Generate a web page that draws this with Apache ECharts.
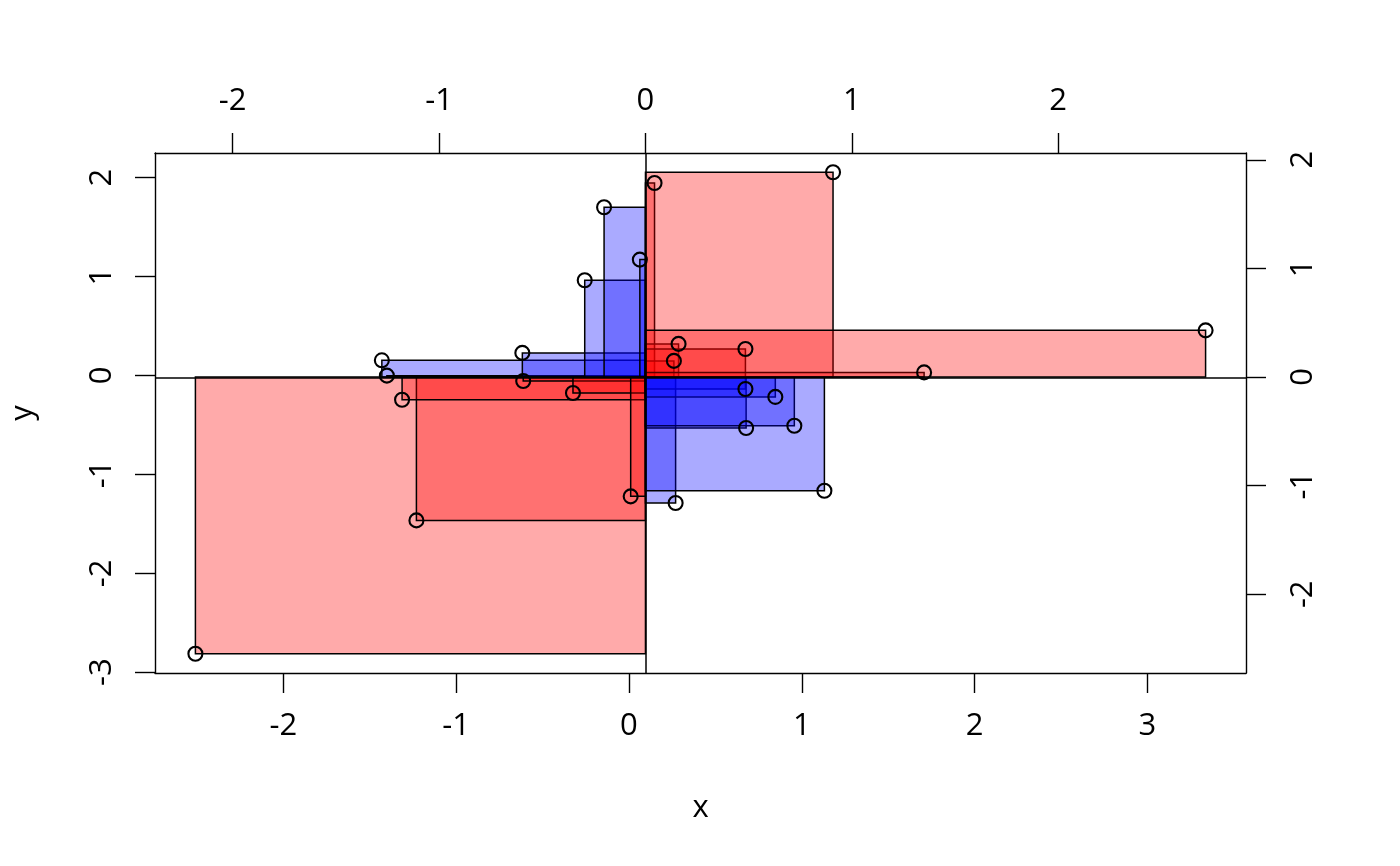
<!DOCTYPE html>
<html>
<head>
<meta charset="utf-8">
<script src="https://cdn.jsdelivr.net/npm/echarts@6.0.0/dist/echarts.min.js"></script>
<style>
  html, body { margin: 0; padding: 0; background: #fff; }
  #chart { width: 1400px; height: 866px; }
</style>
</head>
<body>
<div id="chart"></div>
<script>
// ---- data ----
const xs = [-2.509, -1.230, -1.313, -1.430, -1.401, -0.617, -0.612, -0.324, -0.256, -0.144,
            0.063, 0.010, 0.148, 0.287, 0.260, 0.270, 0.674, 0.674, 0.678, 0.847,
            0.957, 1.131, 1.181, 1.708, 3.337];
const ys = [-2.813, -1.465, -0.245, 0.153, -0.002, 0.228, -0.056, -0.177, 0.962, 1.700,
            1.171, -1.222, 1.946, 0.319, 0.147, -1.289, 0.268, -0.137, -0.531, -0.217,
            -0.508, -1.165, 2.054, 0.031, 0.456];
const xTicks = [-2, -1, 0, 1, 2, 3];
const yTicks = [-3, -2, -1, 0, 1, 2];
const topTicks = [-2, -1, 0, 1, 2];
const rightTicks = [-2, -1, 0, 1, 2];

// ---- derived stats ----
const mean = a => a.reduce((s, v) => s + v, 0) / a.length;
const sd = (a, m) => Math.sqrt(a.reduce((s, v) => s + (v - m) * (v - m), 0) / (a.length - 1));
const mx = mean(xs), my = mean(ys);
const sx = sd(xs, mx), sy = sd(ys, my);
function pad(a) { const lo = Math.min(...a), hi = Math.max(...a), d = (hi - lo) * 0.04; return [lo - d, hi + d]; }
const [xlo, xhi] = pad(xs);
const [ylo, yhi] = pad(ys);

const FONT = 'Open Sans';
const LW = 1.4;
function axisCommon(ticks, extra) {
  return Object.assign({
    type: 'value',
    splitLine: { show: false },
    axisLine: { show: true, onZero: false, lineStyle: { color: '#000', width: LW } },
    axisTick: { show: true, customValues: ticks, length: 20, inside: false, lineStyle: { color: '#000', width: LW } },
    axisLabel: { show: true, customValues: ticks, color: '#000', fontFamily: FONT, fontSize: 31 }
  }, extra);
}

const xAxisBottom = axisCommon(xTicks, { position: 'bottom', min: xlo, max: xhi,
  name: 'x', nameLocation: 'middle', nameGap: 120,
  nameTextStyle: { color: '#000', fontFamily: FONT, fontSize: 31 } });
xAxisBottom.axisLabel.margin = 38;

const xAxisTop = axisCommon(topTicks, { position: 'top', min: (xlo - mx) / sx, max: (xhi - mx) / sx });
xAxisTop.axisLabel.margin = 36;

const yAxisLeft = axisCommon(yTicks, { position: 'left', min: ylo, max: yhi,
  name: 'y', nameLocation: 'middle', nameGap: 116, nameRotate: 90,
  nameTextStyle: { color: '#000', fontFamily: FONT, fontSize: 31 } });
yAxisLeft.axisLabel.rotate = 90;
yAxisLeft.axisLabel.margin = 37;

const yAxisRight = axisCommon(rightTicks, { position: 'right', min: (ylo - my) / sy, max: (yhi - my) / sy });
yAxisRight.axisLabel.rotate = 90;
yAxisRight.axisLabel.margin = 42;

const pts = xs.map((x, i) => [x, ys[i]]);

const chart = echarts.init(document.getElementById('chart'), null, { renderer: 'canvas' });
chart.setOption({
  animation: false,
  backgroundColor: '#fff',
  grid: { left: 153, right: 154, top: 153, bottom: 193, show: false },
  xAxis: [xAxisBottom, xAxisTop],
  yAxis: [yAxisLeft, yAxisRight],
  series: [
    {
      type: 'custom',
      xAxisIndex: 0, yAxisIndex: 0,
      data: pts,
      encode: { x: 0, y: 1 },
      renderItem: function (params, api) {
        const x = api.value(0), y = api.value(1);
        const p0 = api.coord([mx, my]);
        const p1 = api.coord([x, y]);
        const positive = (x - mx) * (y - my) > 0;
        return {
          type: 'rect',
          shape: {
            x: Math.min(p0[0], p1[0]), y: Math.min(p0[1], p1[1]),
            width: Math.abs(p1[0] - p0[0]), height: Math.abs(p1[1] - p0[1])
          },
          style: {
            fill: positive ? 'rgba(255,0,0,0.333)' : 'rgba(0,0,255,0.333)',
            stroke: '#000', lineWidth: 1.5
          }
        };
      },
      markLine: {
        silent: true, symbol: 'none', animation: false,
        label: { show: false },
        lineStyle: { color: '#000', width: 1.5, type: 'solid' },
        data: [{ xAxis: mx }, { yAxis: my }]
      },
      z: 2
    },
    {
      type: 'scatter',
      xAxisIndex: 0, yAxisIndex: 0,
      data: pts,
      symbol: 'circle',
      symbolSize: 14,
      itemStyle: { color: 'rgba(0,0,0,0)', borderColor: '#000', borderWidth: 2.1, opacity: 1 },
      emphasis: { disabled: true },
      z: 3
    }
  ]
});
</script>
</body>
</html>
